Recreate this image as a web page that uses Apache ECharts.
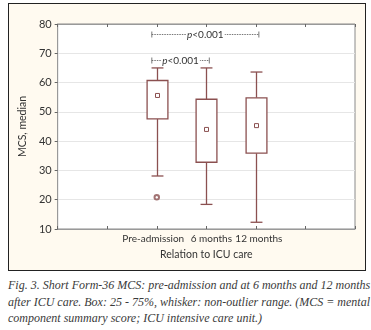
<!DOCTYPE html>
<html>
<head>
<meta charset="utf-8">
<script src="https://cdn.jsdelivr.net/npm/echarts@6/dist/echarts.min.js"></script>
<style>
  html, body { margin: 0; padding: 0; background: #fff; }
  #frame {
    position: absolute; left: 8px; top: 3px;
    width: 356px; height: 266px;
    border: 1px solid #222; background: #fffaf0;
  }
  #chart { width: 356px; height: 266px; }
  #caption {
    position: absolute; left: 8px; top: 277px; width: 362px;
    font-family: "Liberation Serif", serif; font-style: italic;
    font-size: 12px; line-height: 16.5px; color: #3a3a3a;
  }
  #caption div { white-space: nowrap; }
  #caption .j { text-align: justify; text-align-last: justify; }
</style>
</head>
<body>
<div id="frame"><div id="chart"></div></div>
<div id="caption">
  <div class="j">Fig. 3. Short Form-36 MCS: pre-admission and at 6 months and 12 months</div>
  <div class="j">after ICU care. Box: 25 - 75%, whisker: non-outlier range. (MCS = mental</div>
  <div>component summary score; ICU intensive care unit.)</div>
</div>
<script>
// 数据
const categories = ["Pre-admission", "6 months", "12 months"];
const whiskerLow = [28.1, 18.4, 12.3];
const q1 = [47.6, 32.8, 35.9];
const median = [55.6, 44.0, 45.3];
const q3 = [60.7, 54.3, 54.8];
const whiskerHigh = [65, 65, 63.6];
const outliers = [[0, 20.8]]; // [类别序号, 值]
const comparisons = [
  { from: 0, to: 2, level: 76.5, label: "p<0.001" },
  { from: 0, to: 1, level: 67.6, label: "p<0.001" },
];
const yMin = 10;
const yMax = 80;
const yStep = 10;

const BOX_COLOR = "#8b5050";
const FONT = "Lato";
// 类别在数值轴上的位置（左右各留两个空位）
const catPos = (i) => i + 2;
// 标签的水平微调（与原图对齐）
const labelStyles = ["c0", "c1", "c2"];

const chart = echarts.init(document.getElementById("chart"));

const boxData = categories.map((c, i) => [
  catPos(i), whiskerLow[i], q1[i], median[i], q3[i], whiskerHigh[i],
]);

const renderBox = (params, api) => {
  const x = api.value(0);
  const unit = api.size([1, 0])[0];
  const boxW = unit * 0.42;
  const capW = unit * 0.24;
  const pLow = api.coord([x, api.value(1)]);
  const pQ1 = api.coord([x, api.value(2)]);
  const pMed = api.coord([x, api.value(3)]);
  const pQ3 = api.coord([x, api.value(4)]);
  const pHigh = api.coord([x, api.value(5)]);
  const cx = Math.round(pMed[0]) + 0.5;
  const lineStyle = { stroke: BOX_COLOR, lineWidth: 1.3 };
  return {
    type: "group",
    children: [
      { type: "line", shape: { x1: cx, y1: pHigh[1], x2: cx, y2: pQ3[1] }, style: lineStyle },
      { type: "line", shape: { x1: cx, y1: pQ1[1], x2: cx, y2: pLow[1] }, style: lineStyle },
      { type: "line", shape: { x1: cx - capW / 2, y1: pHigh[1], x2: cx + capW / 2, y2: pHigh[1] }, style: lineStyle },
      { type: "line", shape: { x1: cx - capW / 2, y1: pLow[1], x2: cx + capW / 2, y2: pLow[1] }, style: lineStyle },
      {
        type: "rect",
        shape: { x: cx - boxW / 2, y: pQ3[1], width: boxW, height: pQ1[1] - pQ3[1] },
        style: { fill: "#fff", stroke: BOX_COLOR, lineWidth: 1.3 },
      },
      {
        type: "rect",
        shape: { x: cx - 2, y: pMed[1] - 2, width: 4, height: 4 },
        style: { fill: "#fff", stroke: BOX_COLOR, lineWidth: 1 },
      },
    ],
  };
};

const bracketData = comparisons.map((c) => [catPos(c.from), catPos(c.to), c.level, c.label]);

const renderBracket = (params, api) => {
  const pA = api.coord([api.value(0) - 0.1, api.value(2)]);
  const pB = api.coord([api.value(1) + 0.06, api.value(2)]);
  const y = Math.round(pA[1]) + 0.5;
  const style = { stroke: "#555", lineWidth: 0.8 };
  const dashed = { stroke: "#555", lineWidth: 0.8, lineDash: [1.5, 1] };
  return {
    type: "group",
    children: [
      { type: "line", shape: { x1: pA[0], y1: y, x2: pB[0], y2: y }, style: dashed },
      { type: "line", shape: { x1: pA[0], y1: y - 3, x2: pA[0], y2: y + 3 }, style: style },
      { type: "line", shape: { x1: pB[0], y1: y - 3, x2: pB[0], y2: y + 3 }, style: style },
      {
        type: "text",
        x: (pA[0] + pB[0]) / 2,
        y: y,
        style: {
          text: "{i|p}<0.001",
          align: "center",
          verticalAlign: "middle",
          fontFamily: FONT,
          fontSize: 10,
          fill: "#333",
          backgroundColor: "#fff",
          padding: [0, 1],
          rich: { i: { fontStyle: "italic", fontFamily: FONT, fontSize: 10, fill: "#333" } },
        },
      },
    ],
  };
};

const labelRich = {
  c0: { fontFamily: FONT, fontSize: 10, color: "#333", padding: [0, 7, 0, 0] },
  c1: { fontFamily: FONT, fontSize: 10, color: "#333", padding: [0, 0, 0, 10] },
  c2: { fontFamily: FONT, fontSize: 10, color: "#333", padding: [0, 0, 0, 6] },
};

const option = {
  animation: false,
  textStyle: { fontFamily: FONT },
  grid: {
    left: 44,
    right: 10,
    top: 20,
    bottom: 41,
    show: true,
    backgroundColor: "#fff",
    borderColor: "#8a8a8a",
    borderWidth: 1,
  },
  xAxis: [
    {
      type: "value",
      min: 0,
      max: 6,
      interval: 1,
      name: "Relation to ICU care",
      nameLocation: "middle",
      nameGap: 15,
      nameTextStyle: { fontFamily: FONT, fontSize: 10.5, color: "#333" },
      axisLine: { show: true, onZero: false, lineStyle: { color: "#999" } },
      axisTick: { show: true, inside: true, length: 3, lineStyle: { color: "#666" } },
      axisLabel: {
        margin: 5,
        fontFamily: FONT,
        fontSize: 10,
        color: "#333",
        formatter: (v) => {
          const i = v - 2;
          return categories[i] ? "{" + labelStyles[i] + "|" + categories[i] + "}" : "";
        },
        rich: labelRich,
      },
      splitLine: { show: false },
    },
    {
      type: "value",
      position: "top",
      min: 0,
      max: 6,
      interval: 1,
      axisLine: { show: true, lineStyle: { color: "#999" } },
      axisTick: { show: true, inside: true, length: 3, lineStyle: { color: "#666" } },
      axisLabel: { show: false },
      splitLine: { show: false },
    },
  ],
  yAxis: {
    type: "value",
    min: yMin,
    max: yMax,
    interval: yStep,
    name: "MCS, median",
    nameLocation: "middle",
    nameGap: 24,
    nameTextStyle: { fontFamily: FONT, fontSize: 10.5, color: "#333" },
    axisLine: { show: true, lineStyle: { color: "#999" } },
    axisTick: { show: true, length: 3, lineStyle: { color: "#666" } },
    axisLabel: { margin: 6, fontFamily: FONT, fontSize: 11, color: "#333" },
    splitLine: { show: true, lineStyle: { color: "#e6e6e6" } },
  },
  series: [
    {
      type: "custom",
      renderItem: renderBox,
      data: boxData,
      encode: { x: 0, y: [1, 2, 3, 4, 5] },
      z: 3,
    },
    {
      type: "scatter",
      symbol: "emptyCircle",
      symbolSize: 4.5,
      itemStyle: { color: BOX_COLOR, borderWidth: 0.8 },
      data: outliers.map((o) => [catPos(o[0]), o[1]]),
      z: 4,
    },
    {
      type: "custom",
      renderItem: renderBracket,
      data: bracketData,
      encode: { x: [0, 1], y: 2 },
      z: 5,
    },
  ],
};

chart.setOption(option);
</script>
</body>
</html>
